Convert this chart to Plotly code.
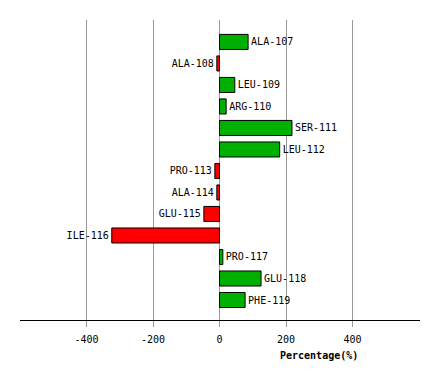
import plotly.graph_objects as go

residues = ["ALA-107", "ALA-108", "LEU-109", "ARG-110", "SER-111", "LEU-112", "PRO-113",
            "ALA-114", "GLU-115", "ILE-116", "PRO-117", "GLU-118", "PHE-119"]
percentages = [86, -8, 46, 20, 218, 181, -14, -8, -47, -324, 10, 125, 77]
tick_values = [-400, -200, 0, 200, 400]

pos = list(range(len(residues)))
colors = ["#00B000" if v >= 0 else "#FF0000" for v in percentages]

fig = go.Figure()
fig.add_trace(go.Bar(
    x=percentages, y=pos, orientation="h", width=0.7,
    marker=dict(color=colors, line=dict(color="black", width=1)),
    text=residues, textposition="outside", constraintext="none", cliponaxis=False,
    textfont=dict(family="DejaVu Sans Mono", size=10, color="black"),
    hoverinfo="x+text",
))

fig.update_layout(
    width=432, height=372,
    margin=dict(l=12, r=20, t=12, b=60),
    paper_bgcolor="white", plot_bgcolor="white",
    showlegend=False,
    xaxis=dict(range=[-600, 603], tickvals=tick_values, ticktext=[str(v) for v in tick_values],
               showgrid=True, gridcolor="#999999", gridwidth=1,
               zeroline=False, showline=True, linecolor="black", linewidth=1,
               ticks="outside", ticklen=6, tickcolor="#999999", ticklabelstandoff=4,
               tickfont=dict(family="DejaVu Sans Mono", size=10, color="black")),
    yaxis=dict(range=[12.93, -1.02], showticklabels=False, showgrid=False, zeroline=False,
               showline=False, ticks=""),
    annotations=[dict(text="<b>Percentage(%)</b>", x=300, y=-0.117, xref="x", yref="paper",
                      showarrow=False, xanchor="center", yanchor="middle",
                      font=dict(family="DejaVu Sans Mono", size=10, color="black"))],
)

fig.write_html("out.html")
